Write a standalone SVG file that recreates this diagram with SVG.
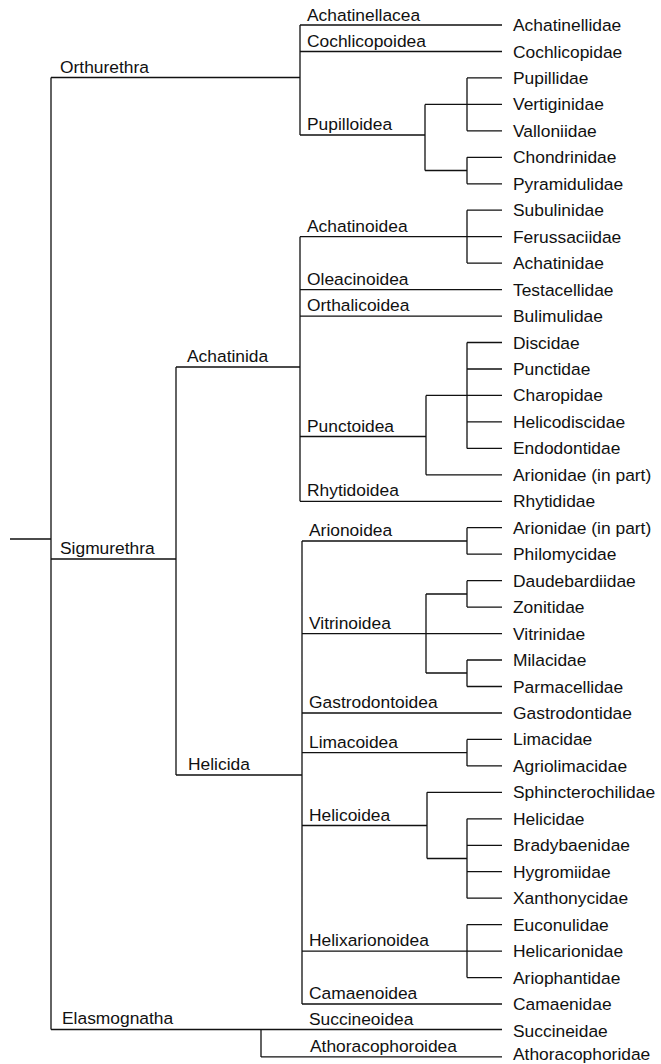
<svg xmlns="http://www.w3.org/2000/svg" width="661" height="1064" viewBox="0 0 661 1064">
<style>
text{font-family:"Liberation Sans",Arial,sans-serif;font-size:17.4px;fill:#111}
.c path{fill:none;stroke:#111;stroke-width:1.3}
</style>
<rect width="661" height="1064" fill="#fff"/>
<g id="connectors" class="c">
<path d="M10 539H51M51 77.5V1029.5M51 77.5H300M300 25V135M300 25H502M300 51.5H502M300 135H425M425 104.4V170.5M425 104.4H502M467 77.9V130.8M467 77.9H502M467 130.8H502M425 170.5H467M467 157.3V183.8M467 157.3H502M467 183.8H502"/>
<path d="M51 559H176M176 367V775M176 367H300M300 236.7V501.3M300 236.7H502M467 210.2V263.1M467 210.2H502M467 263.1H502M300 289.6H502M300 316.1H502M300 436.5H426M426 395.4V474.8M426 395.4H502M467 342.5V448.4M467 342.5H502M467 369H502M467 421.9H502M467 448.4H502M426 474.8H502M300 501.3H502"/>
<path d="M176 775H302M302 541V1004M302 541H467M467 527.7V554.2M467 527.7H502M467 554.2H502M302 633.6H502M426 594V673M426 594H467M467 580.7V607.1M467 580.7H502M467 607.1H502M426 673H467M467 660V686.5M467 660H502M467 686.5H502M302 713H502M302 752.6H467M467 739.4V765.9M467 739.4H502M467 765.9H502M302 825.5H427M427 792.3V858.5M427 792.3H502M427 858.5H467M467 818.8V898.2M467 818.8H502M467 845.3H502M467 871.7H502M467 898.2H502M302 951.1H502M467 924.6V977.6M467 924.6H502M467 977.6H502M302 1004H502"/>
<path d="M51 1029.5H502M261 1029.5V1056.9M261 1056.9H502"/>
</g>
<g id="n-orthurethra"><text x="60" y="72.5">Orthurethra</text></g>
<g id="n-sigmurethra"><text x="60" y="554">Sigmurethra</text></g>
<g id="n-elasmognatha"><text x="62" y="1024">Elasmognatha</text></g>
<g id="n-achatinida"><text x="187" y="362">Achatinida</text></g>
<g id="n-helicida"><text x="188" y="770">Helicida</text></g>
<g id="n-achatinellacea"><text x="307" y="20.5">Achatinellacea</text></g>
<g id="n-cochlicopoidea"><text x="307" y="46.5">Cochlicopoidea</text></g>
<g id="n-pupilloidea"><text x="307" y="130">Pupilloidea</text></g>
<g id="n-achatinoidea"><text x="307" y="231.7">Achatinoidea</text></g>
<g id="n-oleacinoidea"><text x="307" y="284.6">Oleacinoidea</text></g>
<g id="n-orthalicoidea"><text x="307" y="311">Orthalicoidea</text></g>
<g id="n-punctoidea"><text x="307" y="431.5">Punctoidea</text></g>
<g id="n-rhytidoidea"><text x="307" y="496.3">Rhytidoidea</text></g>
<g id="n-arionoidea"><text x="309" y="536">Arionoidea</text></g>
<g id="n-vitrinoidea"><text x="309" y="628.6">Vitrinoidea</text></g>
<g id="n-gastrodontoidea"><text x="309" y="708">Gastrodontoidea</text></g>
<g id="n-limacoidea"><text x="309" y="747.6">Limacoidea</text></g>
<g id="n-helicoidea"><text x="309" y="820.5">Helicoidea</text></g>
<g id="n-helixarionoidea"><text x="309" y="946">Helixarionoidea</text></g>
<g id="n-camaenoidea"><text x="309" y="999">Camaenoidea</text></g>
<g id="n-succineoidea"><text x="309" y="1024.5">Succineoidea</text></g>
<g id="n-athoracophoroidea"><text x="310" y="1052">Athoracophoroidea</text></g>
<g id="leaves">
<g id="l0"><text x="513" y="31">Achatinellidae</text></g>
<g id="l1"><text x="513" y="57.5">Cochlicopidae</text></g>
<g id="l2"><text x="513" y="83.9">Pupillidae</text></g>
<g id="l3"><text x="513" y="110.4">Vertiginidae</text></g>
<g id="l4"><text x="513" y="136.8">Valloniidae</text></g>
<g id="l5"><text x="513" y="163.3">Chondrinidae</text></g>
<g id="l6"><text x="513" y="189.8">Pyramidulidae</text></g>
<g id="l7"><text x="513" y="216.2">Subulinidae</text></g>
<g id="l8"><text x="513" y="242.7">Ferussaciidae</text></g>
<g id="l9"><text x="513" y="269.1">Achatinidae</text></g>
<g id="l10"><text x="513" y="295.6">Testacellidae</text></g>
<g id="l11"><text x="513" y="322.1">Bulimulidae</text></g>
<g id="l12"><text x="513" y="348.5">Discidae</text></g>
<g id="l13"><text x="513" y="375">Punctidae</text></g>
<g id="l14"><text x="513" y="401.4">Charopidae</text></g>
<g id="l15"><text x="513" y="427.9">Helicodiscidae</text></g>
<g id="l16"><text x="513" y="454.4">Endodontidae</text></g>
<g id="l17"><text x="513" y="480.8">Arionidae (in part)</text></g>
<g id="l18"><text x="513" y="507.3">Rhytididae</text></g>
<g id="l19"><text x="513" y="533.7">Arionidae (in part)</text></g>
<g id="l20"><text x="513" y="560.2">Philomycidae</text></g>
<g id="l21"><text x="513" y="586.7">Daudebardiidae</text></g>
<g id="l22"><text x="513" y="613.1">Zonitidae</text></g>
<g id="l23"><text x="513" y="639.6">Vitrinidae</text></g>
<g id="l24"><text x="513" y="666">Milacidae</text></g>
<g id="l25"><text x="513" y="692.5">Parmacellidae</text></g>
<g id="l26"><text x="513" y="719">Gastrodontidae</text></g>
<g id="l27"><text x="513" y="745.4">Limacidae</text></g>
<g id="l28"><text x="513" y="771.9">Agriolimacidae</text></g>
<g id="l29"><text x="513" y="798.3">Sphincterochilidae</text></g>
<g id="l30"><text x="513" y="824.8">Helicidae</text></g>
<g id="l31"><text x="513" y="851.3">Bradybaenidae</text></g>
<g id="l32"><text x="513" y="877.7">Hygromiidae</text></g>
<g id="l33"><text x="513" y="904.2">Xanthonycidae</text></g>
<g id="l34"><text x="513" y="930.6">Euconulidae</text></g>
<g id="l35"><text x="513" y="957.1">Helicarionidae</text></g>
<g id="l36"><text x="513" y="983.6">Ariophantidae</text></g>
<g id="l37"><text x="513" y="1010">Camaenidae</text></g>
<g id="l38"><text x="513" y="1036.5">Succineidae</text></g>
<g id="l39"><text x="513" y="1059.8">Athoracophoridae</text></g>
</g>
</svg>
